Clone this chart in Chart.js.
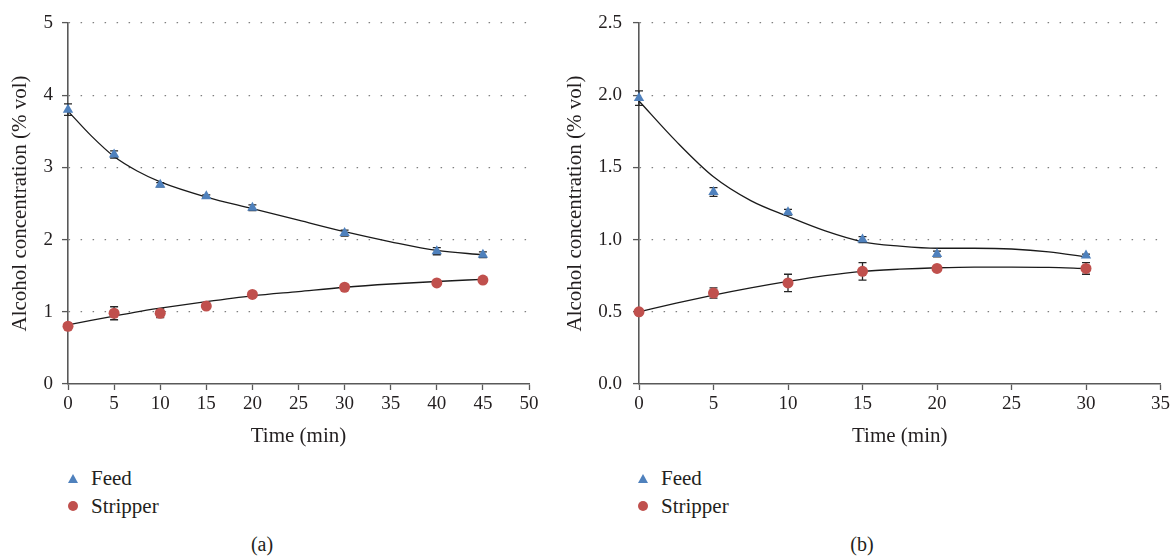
<!DOCTYPE html>
<html>
<head>
<meta charset="utf-8">
<script src="https://cdn.jsdelivr.net/npm/chart.js@4.4.1/dist/chart.umd.min.js"></script>
<style>
  html, body { margin: 0; padding: 0; background: #fff; }
  body { width: 1173px; height: 556px; position: relative; overflow: hidden; font-family: "Liberation Serif", "DejaVu Serif", serif; color: #231f20; }
  .wrap { position: absolute; top: 0; }
  .legend { position: absolute; font-size: 21px; line-height: 28px; }
  .legend div { position: relative; height: 28px; }
  .tri { position: absolute; width: 0; height: 0; border-left: 5px solid transparent; border-right: 5px solid transparent; border-bottom: 9px solid #4f81bd; top: 10px; }
  .dot { position: absolute; width: 10px; height: 10px; border-radius: 50%; background: #c0504d; top: 9px; }
  .lbl { position: absolute; top: 0; }
  .cap { position: absolute; font-size: 20px; top: 533px; transform: translateX(-50%); }
</style>
</head>
<body>
<div class="wrap" style="left:0;width:560px;height:450px"><canvas id="ca" width="560" height="450"></canvas></div>
<div class="wrap" style="left:560px;width:613px;height:450px"><canvas id="cb" width="613" height="450"></canvas></div>

<div class="legend" style="left:0;top:464px;width:300px">
  <div><span class="tri" style="left:68px"></span><span class="lbl" style="left:91px">Feed</span></div>
  <div><span class="dot" style="left:68px"></span><span class="lbl" style="left:91px">Stripper</span></div>
</div>
<div class="legend" style="left:560px;top:464px;width:300px">
  <div><span class="tri" style="left:78px"></span><span class="lbl" style="left:101px">Feed</span></div>
  <div><span class="dot" style="left:78px"></span><span class="lbl" style="left:101px">Stripper</span></div>
</div>
<div class="cap" style="left:262px">(a)</div>
<div class="cap" style="left:862px">(b)</div>

<script>
// ---------- Data: panel (a) ----------
const timeA = [0, 5, 10, 15, 20, 30, 40, 45];
const feedA = [3.80, 3.18, 2.76, 2.60, 2.44, 2.09, 1.84, 1.79];
const feedErrA = [0.08, 0.05, 0.03, 0.02, 0.04, 0.04, 0.05, 0.04];
const stripA = [0.80, 0.98, 0.98, 1.08, 1.24, 1.34, 1.40, 1.44];
const stripErrA = [0.02, 0.09, 0.06, 0.02, 0.02, 0.02, 0.02, 0.03];
const trendTimeA = [0, 2.5, 5, 7.5, 10, 15, 20, 25, 30, 35, 40, 45];
const feedTrendA = [3.78, 3.44, 3.15, 2.95, 2.80, 2.59, 2.43, 2.27, 2.11, 1.97, 1.85, 1.79];
const stripTrendA = [0.82, 0.88, 0.94, 1.00, 1.05, 1.14, 1.22, 1.28, 1.34, 1.385, 1.42, 1.45];
const xTicksA = { min: 0, max: 50, step: 5 };
const yTicksA = { min: 0, max: 5, step: 1 };

// ---------- Data: panel (b) ----------
const timeB = [0, 5, 10, 15, 20, 30];
const feedB = [1.98, 1.33, 1.19, 1.00, 0.90, 0.89];
const feedErrB = [0.05, 0.03, 0.02, 0.02, 0.02, 0.01];
const stripB = [0.50, 0.63, 0.70, 0.78, 0.80, 0.80];
const stripErrB = [0.01, 0.035, 0.06, 0.06, 0.01, 0.04];
const trendTimeB = [0, 2.5, 5, 7.5, 10, 12.5, 15, 17.5, 20, 22.5, 25, 27.5, 30];
const feedTrendB = [1.96, 1.68, 1.435, 1.27, 1.16, 1.06, 0.985, 0.955, 0.94, 0.94, 0.935, 0.915, 0.88];
const stripTrendB = [0.50, 0.56, 0.615, 0.665, 0.71, 0.75, 0.78, 0.795, 0.805, 0.81, 0.81, 0.808, 0.80];
const xTicksB = { min: 0, max: 35, step: 5 };
const yTicksB = { min: 0, max: 2.5, step: 0.5 };

const yTitle = 'Alcohol concentration (% vol)';
const xTitle = 'Time (min)';

// ---------- helpers ----------
const pts = (xs, ys) => xs.map((x, i) => ({ x: x, y: ys[i] }));
const FONT = "'Liberation Serif', 'DejaVu Serif', serif";
const TEXT = '#231f20';

const errorBars = {
  id: 'errorBars',
  beforeDatasetsDraw(chart) {
    const ctx = chart.ctx, xs = chart.scales.x, ys = chart.scales.y;
    chart.data.datasets.forEach(ds => {
      if (!ds.errors) return;
      ds.data.forEach((p, j) => {
        const e = ds.errors[j];
        if (!e) return;
        const px = xs.getPixelForValue(p.x);
        const t = ys.getPixelForValue(p.y + e), b = ys.getPixelForValue(p.y - e);
        ctx.save();
        ctx.strokeStyle = '#262626';
        ctx.lineWidth = 1.3;
        ctx.beginPath();
        ctx.moveTo(px, t); ctx.lineTo(px, b);
        ctx.moveTo(px - 4, t); ctx.lineTo(px + 4, t);
        ctx.moveTo(px - 4, b); ctx.lineTo(px + 4, b);
        ctx.stroke();
        ctx.restore();
      });
    });
  }
};

function makeChart(id, cfg) {
  const datasets = [
    { type: 'line', data: pts(cfg.trendTime, cfg.feedTrend), borderColor: '#1a1a1a', borderWidth: 1.3, pointRadius: 0, cubicInterpolationMode: 'monotone', fill: false, clip: false, order: 2 },
    { type: 'line', data: pts(cfg.trendTime, cfg.stripTrend), borderColor: '#1a1a1a', borderWidth: 1.3, pointRadius: 0, cubicInterpolationMode: 'monotone', fill: false, clip: false, order: 2 },
    { type: 'scatter', label: 'Feed', data: pts(cfg.time, cfg.feed), errors: cfg.feedErr, pointStyle: 'triangle', pointRadius: 6, backgroundColor: '#4f81bd', borderColor: '#4f81bd', borderWidth: 0, clip: false, order: 1 },
    { type: 'scatter', label: 'Stripper', data: pts(cfg.time, cfg.strip), errors: cfg.stripErr, pointStyle: 'circle', pointRadius: 5.5, backgroundColor: '#c0504d', borderColor: '#c0504d', borderWidth: 0, clip: false, order: 1 }
  ];
  return new Chart(document.getElementById(id), {
    data: { datasets },
    plugins: [errorBars],
    options: {
      responsive: false,
      animation: false,
      devicePixelRatio: 1,
      layout: { padding: { top: 23, right: cfg.padRight, bottom: 0, left: 0 } },
      plugins: { legend: { display: false }, tooltip: { enabled: false } },
      scales: {
        x: {
          type: 'linear', min: cfg.xT.min, max: cfg.xT.max,
          ticks: { stepSize: cfg.xT.step, color: TEXT, font: { family: FONT, size: 19 }, padding: 3, maxRotation: 0, autoSkip: false },
          grid: { drawOnChartArea: false, drawTicks: true, tickLength: 6, tickColor: '#595959', tickWidth: 1.3 },
          border: { color: '#595959', width: 1.6 },
          title: { display: true, text: xTitle, color: TEXT, font: { family: FONT, size: 21 }, padding: { top: 8, bottom: 1 } },
          afterFit: s => { s.height = 66; }
        },
        y: {
          type: 'linear', min: cfg.yT.min, max: cfg.yT.max,
          ticks: { stepSize: cfg.yT.step, color: TEXT, font: { family: FONT, size: 19 }, padding: cfg.tickPad, callback: v => cfg.fmt(v) },
          grid: { drawOnChartArea: true, color: c => c.tick && c.tick.value === 0 ? 'rgba(0,0,0,0)' : '#7f7f7f', lineWidth: 1.2, drawTicks: true, tickLength: 6, tickColor: '#595959', tickWidth: 1.3 },
          border: { color: '#595959', width: 1.6, dash: [1.5, 10.5] },
          title: { display: true, text: yTitle, color: TEXT, font: { family: FONT, size: 21 }, padding: { top: cfg.titlePad, bottom: 0 } },
          afterFit: s => { s.width = cfg.yWidth; }
        }
      }
    }
  });
}

makeChart('ca', {
  time: timeA, feed: feedA, feedErr: feedErrA, strip: stripA, stripErr: stripErrA,
  trendTime: trendTimeA, feedTrend: feedTrendA, stripTrend: stripTrendA,
  xT: xTicksA, yT: yTicksA, fmt: v => String(v), yWidth: 68, padRight: 31, tickPad: 9, titlePad: 8
});
makeChart('cb', {
  time: timeB, feed: feedB, feedErr: feedErrB, strip: stripB, stripErr: stripErrB,
  trendTime: trendTimeB, feedTrend: feedTrendB, stripTrend: stripTrendB,
  xT: xTicksB, yT: yTicksB, fmt: v => v.toFixed(1), yWidth: 79, padRight: 12, tickPad: 11, titlePad: 3
});
</script>
</body>
</html>
